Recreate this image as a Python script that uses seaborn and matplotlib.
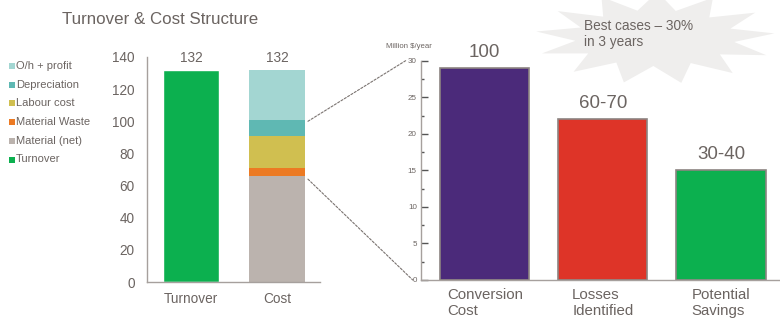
import numpy as np
import matplotlib
matplotlib.use("Agg")
import matplotlib.pyplot as plt
from matplotlib.patches import Polygon, Rectangle, ConnectionPatch
import seaborn as sns
import pandas as pd

# ---- data ----
left_categories = ["Turnover", "Cost"]
turnover_value = [132, 0]
cost_components = ["Material (net)", "Material Waste", "Labour cost", "Depreciation", "O/h + profit"]
cost_values = [66, 5, 20, 10, 31]
left_totals = ["132", "132"]
legend_labels = ["O/h + profit", "Depreciation", "Labour cost", "Material Waste", "Material (net)", "Turnover"]

right_categories = ["Conversion\nCost", "Losses\nIdentified", "Potential\nSavings"]
right_values = [29, 22, 15]
right_labels = ["100", "60-70", "30-40"]

# ---- style ----
sns.set_theme(style="white")
plt.rcParams['font.family'] = ['Liberation Sans', 'DejaVu Sans']
TXT = "#6b6461"
comp_colors = {"Material (net)": "#bbb3ae", "Material Waste": "#ec7a23", "Labour cost": "#d0bf50",
               "Depreciation": "#5fb8b3", "O/h + profit": "#a3d6d2", "Turnover": "#0cb04f"}
right_colors = ["#4b2a7a", "#de3428", "#0cb04f"]

fig = plt.figure(figsize=(7.8, 3.21), dpi=100)

# starburst background
cx, cy = 655 / 780, 1 - 38 / 321
n = 13
pts = []
for i in range(2 * n):
    ang = np.pi * i / n + 0.1
    if i % 2 == 0:
        rx, ry = 120 / 780, 46 / 321
    else:
        rx, ry = 80 / 780, 28 / 321
    pts.append((cx + rx * np.cos(ang), cy + ry * np.sin(ang)))
fig.add_artist(Polygon(pts, closed=True, transform=fig.transFigure, facecolor="#efeeed",
                       edgecolor="none", zorder=0))
fig.text(584 / 780, 1 - 34 / 321, "Best cases – 30%\nin 3 years", fontsize=9.8, color=TXT,
         ha="left", va="center", linespacing=1.2)

# title
fig.text(62 / 780, 1 - 20 / 321, "Turnover & Cost Structure", fontsize=12.2, color=TXT,
         ha="left", va="center")

# ---- left axes ----
ax1 = fig.add_axes([147 / 780, 1 - 282 / 321, (320 - 147) / 780, (282 - 57) / 321])
x = np.arange(len(left_categories))
bw = 0.65
df_t = pd.DataFrame({"cat": left_categories, "val": turnover_value})
sns.barplot(data=df_t, x="cat", y="val", ax=ax1, color=comp_colors["Turnover"], width=bw,
            saturation=1)
bottom = 0
for comp, v in zip(cost_components, cost_values):
    ax1.bar(1, v, bottom=bottom, width=bw, color=comp_colors[comp], linewidth=0)
    bottom += v
tops = [turnover_value[0], sum(cost_values)]
for xi, t, lab in zip(x, tops, left_totals):
    ax1.text(xi, t + 3, lab, ha="center", va="bottom", fontsize=9.8, color=TXT)
ax1.set_ylim(0, 140)
ax1.set_xlim(-0.51, 1.50)
ax1.set_yticks(range(0, 141, 20))
ax1.set_xlabel("")
ax1.set_ylabel("")
for s in ["top", "right"]:
    ax1.spines[s].set_visible(False)
for s in ["left", "bottom"]:
    ax1.spines[s].set_color("#a6a09d")
    ax1.spines[s].set_linewidth(1.0)
ax1.tick_params(axis="y", length=0, pad=9, labelsize=9.8, labelcolor=TXT)
ax1.tick_params(axis="x", length=0, pad=7, labelsize=9.8, labelcolor=TXT)
ax1.patch.set_alpha(0)

# legend (manual)
for i, lab in enumerate(legend_labels):
    yy = 1 - (66 + i * 18.7) / 321
    fig.add_artist(Rectangle((9 / 780, yy - 3 / 321), 6 / 780, 6 / 321, transform=fig.transFigure,
                             facecolor=comp_colors[lab], edgecolor="none"))
    fig.text(16 / 780, yy, lab, fontsize=8, color=TXT, ha="left", va="center")

# ---- right axes ----
ax2 = fig.add_axes([421 / 780, 1 - 280 / 321, (780 - 421) / 780, (280 - 60.7) / 321])
df_r = pd.DataFrame({"cat": right_categories, "val": right_values})
sns.barplot(data=df_r, x="cat", y="val", hue="cat", palette=right_colors, ax=ax2, width=0.755,
            saturation=1, legend=False, edgecolor="#8c8481", linewidth=1.2)
for xi, v, lab in zip(range(len(right_values)), right_values, right_labels):
    ax2.text(xi, v + 1.0, lab, ha="center", va="bottom", fontsize=13.5, color=TXT)
ax2.set_ylim(0, 30)
ax2.set_xlim(-0.54, 2.50)
ax2.set_yticks(range(0, 31, 5))
ax2.set_yticks(np.arange(2.5, 30, 5), minor=True)
ax2.set_xlabel("")
ax2.set_ylabel("")
for s in ["top", "right"]:
    ax2.spines[s].set_visible(False)
for s in ["left", "bottom"]:
    ax2.spines[s].set_color("#a6a09d")
    ax2.spines[s].set_linewidth(1.0)
ax2.tick_params(axis="y", which="major", direction="in", length=5, width=1, color="#555",
                pad=3, labelsize=5.8, labelcolor=TXT, left=True)
ax2.tick_params(axis="y", which="minor", direction="in", length=2.5, width=1, color="#555", left=True)
ax2.tick_params(axis="x", length=0, pad=6, labelsize=10.8, labelcolor=TXT)
for t in ax2.get_xticklabels():
    t.set_multialignment("left")
    t.set_linespacing(1.15)
ax2.patch.set_alpha(0)
fig.text(386 / 780, 1 - 46 / 321, "Million $/year", fontsize=5.6, color=TXT, ha="left", va="center")

# zoom connector lines
for yA, yB, xB in [(100, 30, -0.67), (64, 0, -0.61)]:
    con = ConnectionPatch(xyA=(1.36, yA), coordsA=ax1.transData, xyB=(xB, yB), coordsB=ax2.transData,
                          color="#7a7370", linestyle=(0, (2, 1.5)), linewidth=0.8)
    fig.add_artist(con)

fig.savefig("out.png", dpi=100)
